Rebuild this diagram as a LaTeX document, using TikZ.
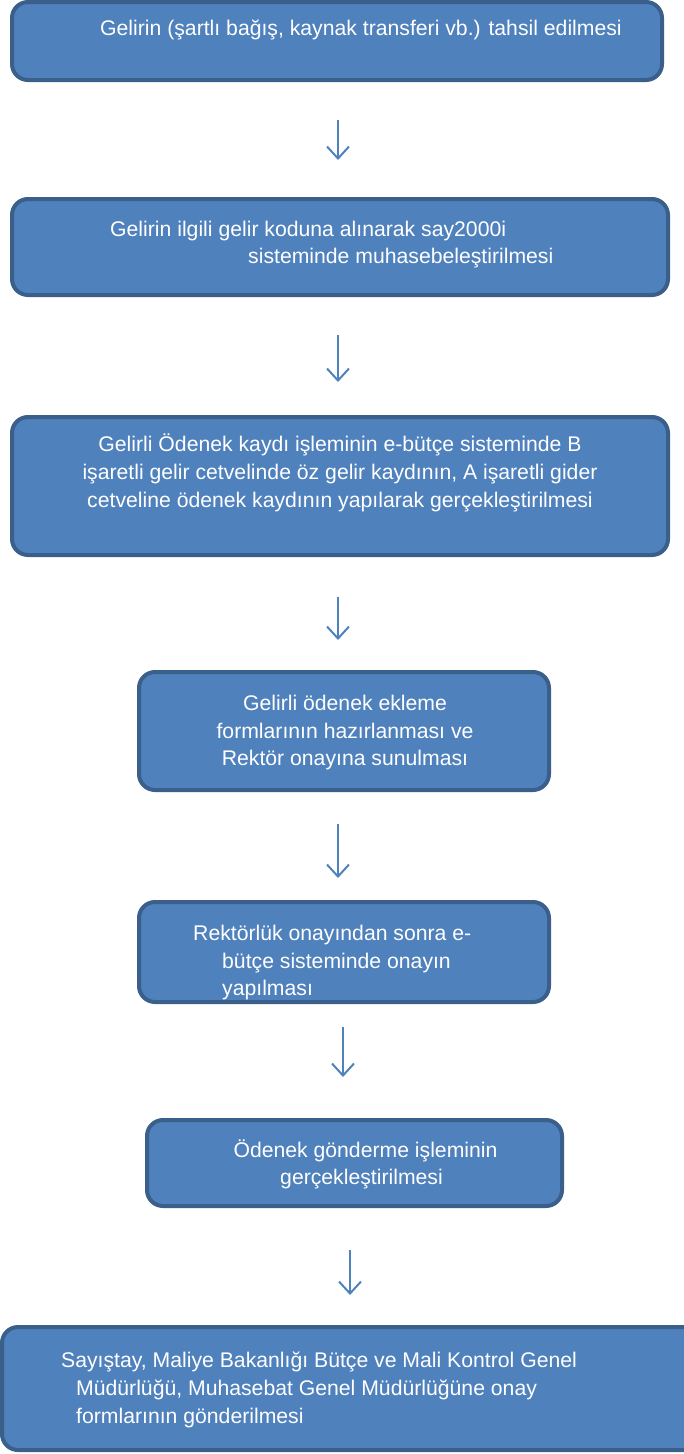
\documentclass[tikz,border=0pt]{standalone}
\usepackage{fontspec}
\setmainfont{Liberation Sans}
\usetikzlibrary{arrows.meta}
\definecolor{boxfill}{HTML}{4F81BD}
\definecolor{boxline}{HTML}{3A5F8B}
\definecolor{arrcol}{HTML}{4F81BD}
\tikzset{
  box/.style={draw=boxline, fill=boxfill, line width=4pt, rounded corners=16pt, inner sep=0pt},
  txt/.style={text=white, inner sep=0pt, anchor=base west, font=\fontsize{21.2}{28}\selectfont},
  ctxt/.style={text=white, inner sep=0pt, anchor=base, font=\fontsize{21.2}{28}\selectfont},
  arr/.style={draw=arrcol, line width=2pt, -{Straight Barb[length=12pt,width=22pt,line width=2pt]}}
}
\begin{document}
\begin{tikzpicture}[x=1pt,y=-1pt]
\useasboundingbox (0,0) rectangle (684,1454);
% boxes
\node[box, minimum width=650pt, minimum height=78pt] (b1) at (337,41) {};
\node[box, minimum width=656pt, minimum height=96pt] (b2) at (340,247) {};
\node[box, minimum width=656pt, minimum height=138pt] (b3) at (340,486) {};
\node[box, minimum width=410pt, minimum height=118pt] (b4) at (344,731) {};
\node[box, minimum width=410pt, minimum height=100pt] (b5) at (344,952) {};
\node[box, minimum width=415pt, minimum height=86pt] (b6) at (354.5,1163) {};
\node[box, minimum width=700pt, minimum height=123pt] (b7) at (352,1388.5) {};
% texts
\node[txt] (t1) at (100,35) {Gelirin (şartlı bağış, kaynak transferi vb.) tahsil edilmesi};
\node[txt] (t2a) at (110,236) {Gelirin ilgili gelir koduna alınarak say2000i};
\node[txt] (t2b) at (248,263) {sisteminde muhasebeleştirilmesi};
\node[ctxt] (t3a) at (340,451) {Gelirli Ödenek kaydı işleminin e-bütçe sisteminde B};
\node[ctxt] (t3b) at (340,479) {işaretli gelir cetvelinde öz gelir kaydının, A işaretli gider};
\node[ctxt] (t3c) at (340,507) {cetveline ödenek kaydının yapılarak gerçekleştirilmesi};
\node[ctxt] (t4a) at (345,710) {Gelirli ödenek ekleme};
\node[ctxt] (t4b) at (345,738) {formlarının hazırlanması ve};
\node[ctxt] (t4c) at (345,765) {Rektör onayına sunulması};
\node[txt] (t5a) at (193,940) {Rektörlük onayından sonra e-};
\node[txt] (t5b) at (222,968) {bütçe sisteminde onayın};
\node[txt] (t5c) at (222,995) {yapılması};
\node[ctxt] (t6a) at (365.5,1157) {Ödenek gönderme işleminin};
\node[ctxt] (t6b) at (361.5,1184) {gerçekleştirilmesi};
\node[txt] (t7a) at (61,1367) {Sayıştay, Maliye Bakanlığı Bütçe ve Mali Kontrol Genel};
\node[txt] (t7b) at (76,1395) {Müdürlüğü, Muhasebat Genel Müdürlüğüne onay};
\node[txt] (t7c) at (76,1423) {formlarının gönderilmesi};
% arrow end points
\coordinate (a1s) at (338,120); \coordinate (a1e) at (338,160);
\coordinate (a2s) at (338,335); \coordinate (a2e) at (338,382);
\coordinate (a3s) at (338,597); \coordinate (a3e) at (338,640);
\coordinate (a4s) at (338,824); \coordinate (a4e) at (338,878);
\coordinate (a5s) at (343,1027); \coordinate (a5e) at (343,1077);
\coordinate (a6s) at (350,1250); \coordinate (a6e) at (350,1295);
\draw[arr] (a1s) -- (a1e);
\draw[arr] (a2s) -- (a2e);
\draw[arr] (a3s) -- (a3e);
\draw[arr] (a4s) -- (a4e);
\draw[arr] (a5s) -- (a5e);
\draw[arr] (a6s) -- (a6e);
\end{tikzpicture}
\end{document}
